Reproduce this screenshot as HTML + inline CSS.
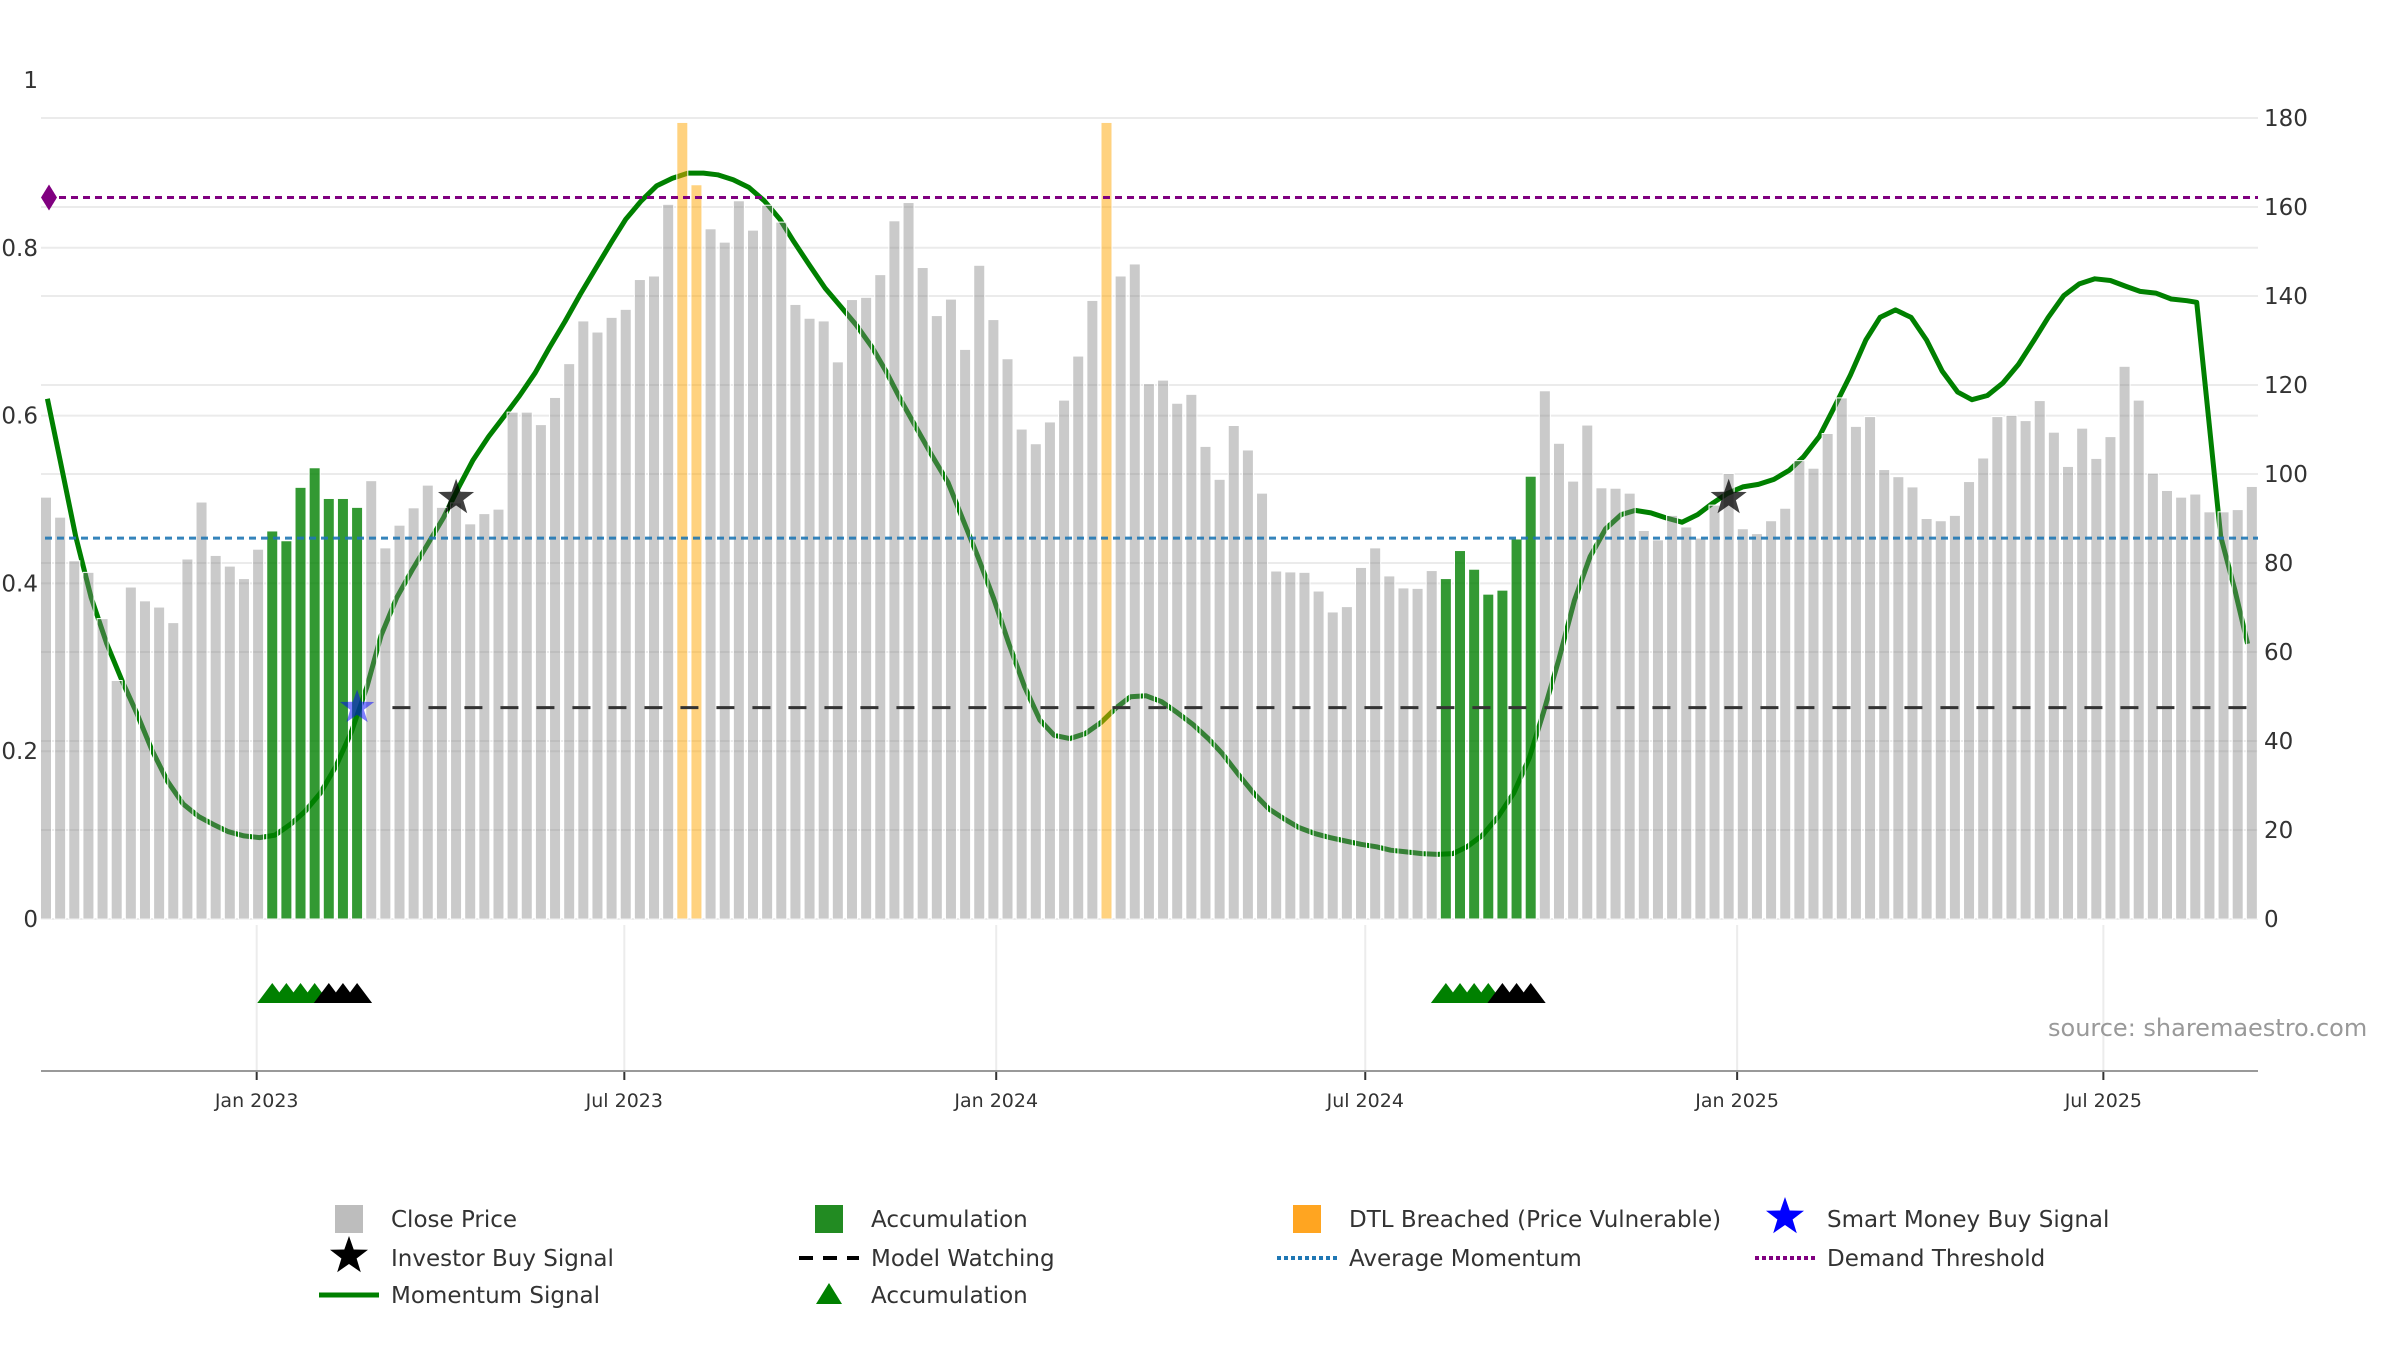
<!DOCTYPE html>
<html><head><meta charset="utf-8"><style>
html,body{margin:0;padding:0;background:#fff;}
svg{display:block;font-family:"DejaVu Sans","Liberation Sans",sans-serif;}
</style></head><body>
<svg id="chart" width="2400" height="1350" viewBox="0 0 2400 1350" xmlns="http://www.w3.org/2000/svg">
<g id="grid"></g>
<g id="lower"></g>
<g id="mom"></g>
<g id="bars"></g>
<g id="refs"></g>
<g id="marks"></g>
<g id="axes"></g>
<text x="2048" y="1036" font-size="24" fill="#999">source: sharemaestro.com</text>
<g id="legend"></g>
</svg>
<script>
const closes=[94.8,90.3,80.5,77.9,67.5,53.6,74.6,71.5,70.1,66.6,80.9,93.7,81.7,79.3,76.5,83.1,87.2,85.0,97.0,101.4,94.5,94.5,92.5,
98.5,83.4,88.5,92.4,97.5,92.5,93.5,88.8,91.1,92.1,113.9,113.9,111.1,117.2,124.8,134.4,131.9,135.2,137.0,143.7,144.5,160.6,179,165,155.1,152.1,161.4,154.8,160.4,156.6,138.1,
135.0,134.4,125.2,139.2,139.7,144.8,156.9,161.0,146.4,135.6,139.3,128.0,146.9,134.7,125.9,110.1,106.8,111.7,116.6,126.5,139.0,179,144.5,147.2,120.3,121.1,115.9,117.9,
106.2,98.8,110.9,105.4,95.7,78.2,78.0,77.9,73.7,69.0,70.2,79.0,83.4,77.1,74.4,74.3,78.3,76.5,82.8,78.6,73.0,73.9,85.4,99.5,118.7,106.9,98.4,111.0,96.9,
96.8,95.7,87.3,85.2,90.7,88.1,85.6,93.0,100.1,87.7,86.6,89.5,92.3,103.0,101.3,109.1,117.1,110.7,112.9,101.0,99.4,97.1,90.0,89.5,90.7,98.3,103.6,112.9,113.2,112.0,116.5,109.4,101.7,110.3,103.5,108.4,124.2,116.6,100.2,96.3,94.8,95.5,91.5,91.5,92.0,97.2];
const accumWeeks=[16,17,18,19,20,21,22,99,100,101,102,103,104,105];
const dtlWeeks=[45,46,75];
const momWeeks=[0.1,1.0,2.1,3.2,4.3,5.4,6.4,7.5,8.6,9.7,10.8,11.8,12.9,14.0,15.1,16.2,17.3,18.3,19.4,20.5,21.6,22.7,23.7,24.8,25.9,27.0,28.1,29.2,30.2,31.3,32.4,33.5,34.6,35.6,36.7,37.8,38.9,40.0,41.0,42.1,43.2,44.3,45.4,46.5,47.5,48.6,49.7,50.8,51.9,52.9,54.0,55.1,56.2,57.3,58.4,59.4,60.5,61.6,62.7,63.8,64.8,65.9,67.0,68.1,69.2,70.3,71.3,72.4,73.5,74.6,75.7,76.7,77.8,78.9,80.0,81.1,82.2,83.2,84.3,85.4,86.5,87.6,88.6,89.7,90.8,91.9,93.0,94.1,95.1,96.2,97.3,98.4,99.5,100.5,101.6,102.7,103.8,104.9,105.9,107.0,108.1,109.2,110.3,111.4,112.4,113.5,114.6,115.7,116.8,117.9,118.9,120.0,121.1,122.2,123.3,124.3,125.4,126.5,127.6,128.7,129.7,130.8,131.9,133.0,134.1,135.2,136.2,137.3,138.4,139.5,140.6,141.6,142.7,143.8,144.9,146.0,147.1,148.1,149.2,150.3,151.4,152.1,152.8,153.8,154.8,155.7];
const momValues=[0.620,0.547,0.456,0.383,0.328,0.283,0.246,0.201,0.164,0.137,
0.122,0.113,0.104,0.099,0.097,0.100,0.113,0.128,0.150,0.182,
0.223,0.277,0.338,0.383,0.416,0.447,0.478,0.515,0.547,0.575,
0.599,0.624,0.651,0.681,0.712,0.745,0.776,0.807,0.834,0.856,
0.874,0.883,0.889,0.889,0.887,0.881,0.872,0.856,0.834,0.807,
0.779,0.752,0.730,0.708,0.682,0.653,0.617,0.584,0.551,0.520,
0.478,0.432,0.383,0.328,0.277,0.237,0.219,0.215,0.221,0.234,
0.252,0.265,0.266,0.259,0.246,0.232,0.215,0.197,0.173,0.150,
0.131,0.119,0.109,0.102,0.097,0.093,0.089,0.086,0.082,0.080,
0.078,0.077,0.078,0.086,0.100,0.122,0.150,0.192,0.246,0.310,
0.380,0.432,0.465,0.482,0.487,0.484,0.478,0.473,0.482,0.496,
0.507,0.515,0.518,0.524,0.535,0.551,0.575,0.611,0.648,0.690,
0.717,0.726,0.717,0.690,0.653,0.628,0.619,0.624,0.639,0.661,
0.690,0.717,0.743,0.757,0.763,0.761,0.754,0.748,0.746,0.739,
0.737,0.735,0.620,0.456,0.392,0.328];
const demandThreshold=[0.86];
const avgMomentum=[0.454];
const modelWatching=[0.252];
const modelWatchStart=[24.5];
const investorBuyWeeks=[29,119];
const investorBuyValues=[0.502,0.502];
const smartMoneyWeeks=[22];
const smartMoneyValues=[0.252];
const triGreenWeeks=[16,17,18,19,99,100,101,102];
const triBlackWeeks=[20,21,22,103,104,105];
const dateLabels=["Jan 2023","Jul 2023","Jan 2024","Jul 2024","Jan 2025","Jul 2025"];
const dateWeeks=[14.9,40.9,67.2,93.3,119.6,145.5];
const leftTicks=[0,0.2,0.4,0.6,0.8,1];
const leftTickLabels=["0","0.2","0.4","0.6","0.8","1"];
const rightTicks=[0,20,40,60,80,100,120,140,160,180];

const NS="http://www.w3.org/2000/svg";
const X=w=>46+w*14.14;
const YR=v=>919-v*4.45;
const YL=v=>919-v*839;
const PL=41,PR=2258;
function mk(tag,attrs,parent){const e=document.createElementNS(NS,tag);for(const k in attrs)e.setAttribute(k,attrs[k]);parent.appendChild(e);return e;}
const g=id=>document.getElementById(id);

rightTicks.forEach(t=>{const l=mk('line',{x1:PL,x2:PR,y1:YR(t),y2:YR(t),stroke:'#ebebeb','stroke-width':2},g('grid'));

});
leftTicks.forEach(t=>{if(t===1)return;const l=mk('line',{x1:PL,x2:PR,y1:YL(t),y2:YL(t),stroke:'#ebebeb','stroke-width':2},g('grid'));

});

dateWeeks.forEach((w,i)=>{const l=mk('line',{x1:X(w),x2:X(w),y1:925,y2:1071,stroke:'#ececec','stroke-width':2},g('lower'));


const t=mk('line',{x1:X(w),x2:X(w),y1:1071,y2:1080,stroke:'#333','stroke-width':2},g('axes'));


const tx=mk('text',{x:X(w),y:1107,'font-size':19,fill:'#333','text-anchor':'middle'},g('axes'));tx.textContent=dateLabels[i];

});
const xa=mk('line',{x1:PL,x2:PR,y1:1071,y2:1071,stroke:'#999','stroke-width':2},g('axes'));


function tri(w,col){const cx=X(w);const p=mk('polygon',{points:`${cx-15},1003 ${cx+15},1003 ${cx},983`,fill:col},g('lower'));

}
triGreenWeeks.forEach(w=>tri(w,'#008000'));
triBlackWeeks.forEach(w=>tri(w,'#000'));

let d='';momWeeks.forEach((w,i)=>{d+=(i?'L':'M')+X(w).toFixed(1)+','+YL(momValues[i]).toFixed(1);});
const ml=mk('path',{d:d,fill:'none',stroke:'#008000','stroke-width':5,'stroke-linejoin':'round'},g('mom'));



closes.forEach((v,i)=>{let fill='rgb(128,128,128)',op=0.42,name='close-price-bar';
if(accumWeeks.includes(i)){fill='#008000';op=0.8;name='accumulation-bar';}
if(dtlWeeks.includes(i)){fill='#ffa500';op=0.5;name='dtl-breached-bar';}
const b=mk('rect',{x:X(i)-5.5,y:YR(v),width:11,height:YR(0)-YR(v),fill:fill,'fill-opacity':op,stroke:'#fff','stroke-width':1},g('bars'));

});

const dl=mk('line',{x1:PL+6,x2:PR,y1:YL(demandThreshold[0]),y2:YL(demandThreshold[0]),stroke:'#800080','stroke-width':3,'stroke-dasharray':'7 5'},g('refs'));


const dm=mk('polygon',{points:`${PL},${YL(0.86)} ${PL+8},${YL(0.86)-13} ${PL+16},${YL(0.86)} ${PL+8},${YL(0.86)+13}`,fill:'#800080'},g('refs'));


const al=mk('line',{x1:PL+4,x2:PR,y1:YL(avgMomentum[0]),y2:YL(avgMomentum[0]),stroke:'#1f77b4','stroke-width':3,'stroke-dasharray':'7 5','stroke-opacity':0.9},g('refs'));


const mw=mk('line',{x1:X(modelWatchStart[0]),x2:PR,y1:YL(modelWatching[0]),y2:YL(modelWatching[0]),stroke:'#333','stroke-width':3,'stroke-dasharray':'18 18'},g('refs'));



function star(cx,cy,r,fill,parent,op){let p='';for(let k=0;k<10;k++){const a=-Math.PI/2+k*Math.PI/5;const rr=k%2?r*0.4:r;p+=(cx+rr*Math.cos(a)).toFixed(1)+','+(cy+rr*Math.sin(a)).toFixed(1)+' ';}
return mk('polygon',{points:p,fill:fill,'fill-opacity':op},parent);}
investorBuyWeeks.forEach((w,i)=>{const s=star(X(w),YL(investorBuyValues[i]),19,'#000',g('marks'),0.75);

});
smartMoneyWeeks.forEach((w,i)=>{const s=star(X(w),YL(smartMoneyValues[i]),18,'#0000ff',g('marks'),0.5);

});

leftTicks.forEach((t,i)=>{const tx=mk('text',{x:38,y:YL(t)+8,'font-size':23,fill:'#333','text-anchor':'end'},g('axes'));tx.textContent=leftTickLabels[i];

});
rightTicks.forEach(t=>{const tx=mk('text',{x:2264,y:YR(t)+8,'font-size':23,fill:'#333'},g('axes'));tx.textContent=String(t);

});

const L=g('legend');
const rows=[1219,1258,1295],cols=[349,829,1307,1785];
function ltext(c,r,s,name){const t=mk('text',{x:cols[c]+42,y:rows[r]+8,'font-size':23,fill:'#333'},L);t.textContent=s;

}
function sq(c,r,col){mk('rect',{x:cols[c]-14,y:rows[r]-14,width:28,height:28,fill:col},L);}
sq(0,0,'#bdbdbd');ltext(0,0,'Close Price','legend-close-price');
sq(1,0,'#228b22');ltext(1,0,'Accumulation','legend-accumulation-bar');
sq(2,0,'#ffa521');ltext(2,0,'DTL Breached (Price Vulnerable)','legend-dtl-breached');
star(cols[3],rows[0]-2,20,'#0000ff',L,1);ltext(3,0,'Smart Money Buy Signal','legend-smart-money');
star(cols[0],rows[1]-2,20,'#000',L,1);ltext(0,1,'Investor Buy Signal','legend-investor-buy');
mk('line',{x1:cols[1]-30,x2:cols[1]+30,y1:rows[1],y2:rows[1],stroke:'#000','stroke-width':4,'stroke-dasharray':'14 10'},L);ltext(1,1,'Model Watching','legend-model-watching');
mk('line',{x1:cols[2]-30,x2:cols[2]+30,y1:rows[1],y2:rows[1],stroke:'#1f77b4','stroke-width':4,'stroke-dasharray':'4 3'},L);ltext(2,1,'Average Momentum','legend-average-momentum');
mk('line',{x1:cols[3]-30,x2:cols[3]+30,y1:rows[1],y2:rows[1],stroke:'#800080','stroke-width':4,'stroke-dasharray':'4 3'},L);ltext(3,1,'Demand Threshold','legend-demand-threshold');
mk('line',{x1:cols[0]-30,x2:cols[0]+30,y1:rows[2],y2:rows[2],stroke:'#008000','stroke-width':5},L);ltext(0,2,'Momentum Signal','legend-momentum-signal');
mk('polygon',{points:`${cols[1]-13},${rows[2]+9} ${cols[1]+13},${rows[2]+9} ${cols[1]},${rows[2]-12}`,fill:'#008000'},L);ltext(1,2,'Accumulation','legend-accumulation-triangle');
</script>
</body></html>
